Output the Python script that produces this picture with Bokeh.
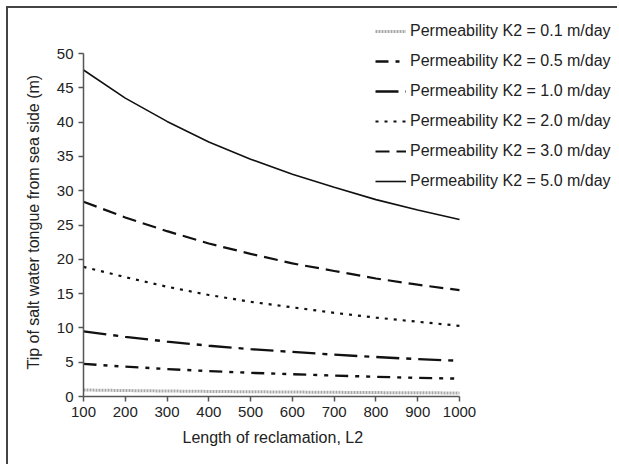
from bokeh.plotting import figure
from bokeh.models import Legend, LegendItem, FixedTicker, Title
from bokeh.embed import file_html
from bokeh.resources import INLINE

L2 = [100, 200, 300, 400, 500, 600, 700, 800, 900, 1000]
k01 = [0.95, 0.87, 0.80, 0.74, 0.69, 0.65, 0.61, 0.57, 0.54, 0.52]
k05 = [4.75, 4.35, 4.0, 3.7, 3.45, 3.25, 3.05, 2.87, 2.72, 2.6]
k10 = [9.5, 8.7, 8.0, 7.4, 6.9, 6.5, 6.1, 5.75, 5.45, 5.2]
k20 = [18.9, 17.4, 16.0, 14.8, 13.8, 13.0, 12.2, 11.5, 10.9, 10.3]
k30 = [28.4, 26.1, 24.1, 22.3, 20.8, 19.4, 18.3, 17.2, 16.3, 15.5]
k50 = [47.6, 43.5, 40.1, 37.1, 34.6, 32.4, 30.5, 28.7, 27.2, 25.8]
y_ticks = [0, 5, 10, 15, 20, 25, 30, 35, 40, 45, 50]
labels = ["Permeability K2 = 0.1 m/day", "Permeability K2 = 0.5 m/day",
          "Permeability K2 = 1.0 m/day", "Permeability K2 = 2.0 m/day",
          "Permeability K2 = 3.0 m/day", "Permeability K2 = 5.0 m/day"]

FONT = "Liberation Sans"

# frame extends to the right/top so the legend is not clipped; axes are bounded
p = figure(width=611, height=458, output_backend="svg", toolbar_location=None,
           x_range=(100, 1383), y_range=(0, 56.56),
           min_border_left=75, min_border_top=0, min_border_right=0, min_border_bottom=70)
p.margin = (6, 0, 0, 6)
p.styles = {"border-left": "2px solid #444", "border-top": "2px solid #444"}
p.outline_line_color = None
p.xgrid.visible = False
p.ygrid.visible = False
p.background_fill_color = "white"

for ax in (p.xaxis[0], p.yaxis[0]):
    ax.axis_line_color = "#555555"
    ax.axis_line_width = 1.5
    ax.major_tick_line_color = "#555555"
    ax.major_tick_line_width = 1.5
    ax.major_tick_out = 5
    ax.major_tick_in = 0
    ax.minor_tick_line_color = None
    ax.major_label_text_font = FONT
    ax.major_label_text_font_size = "15px"
    ax.major_label_text_color = "#222222"

p.xaxis.ticker = FixedTicker(ticks=L2)
p.yaxis.ticker = FixedTicker(ticks=y_ticks)
p.xaxis.bounds = (100, 1000)
p.yaxis.bounds = (0, 50)

xt = Title(text="Length of reclamation, L2", align="left", offset=99,
           text_font=FONT, text_font_size="16px", text_font_style="normal",
           text_color="#222222", standoff=14)
p.add_layout(xt, "below")
yt = Title(text="Tip of salt water tongue from sea side (m)", align="left", offset=27,
           text_font=FONT, text_font_size="16px", text_font_style="normal",
           text_color="#222222", standoff=24)
p.add_layout(yt, "left")

styles = [
    (k01, "#a8a8a8", 3, "2 1"),
    (k05, "#111111", 2.4, "13 7 4 7 4 7"),
    (k10, "#111111", 2.4, "23 7 5 7"),
    (k20, "#111111", 2.2, "3 6"),
    (k30, "#111111", 2.2, "14 7"),
    (k50, "#111111", 1.6, "solid"),
]
items = []
for (ys, c, w, d), lab in zip(styles, labels):
    r = p.line(L2, ys, line_color=c, line_width=w, line_dash=d)
    items.append(LegendItem(label=lab, renderers=[r]))

legend = Legend(items=items, location=(292, 205), border_line_color=None,
                background_fill_alpha=0, label_text_font=FONT, label_text_font_size="16px",
                label_text_color="#222222", glyph_width=31, glyph_height=20,
                label_height=20, spacing=10, padding=0, margin=0, label_standoff=4)
p.add_layout(legend, "center")

open("out.html", "w").write(file_html(p, INLINE))
